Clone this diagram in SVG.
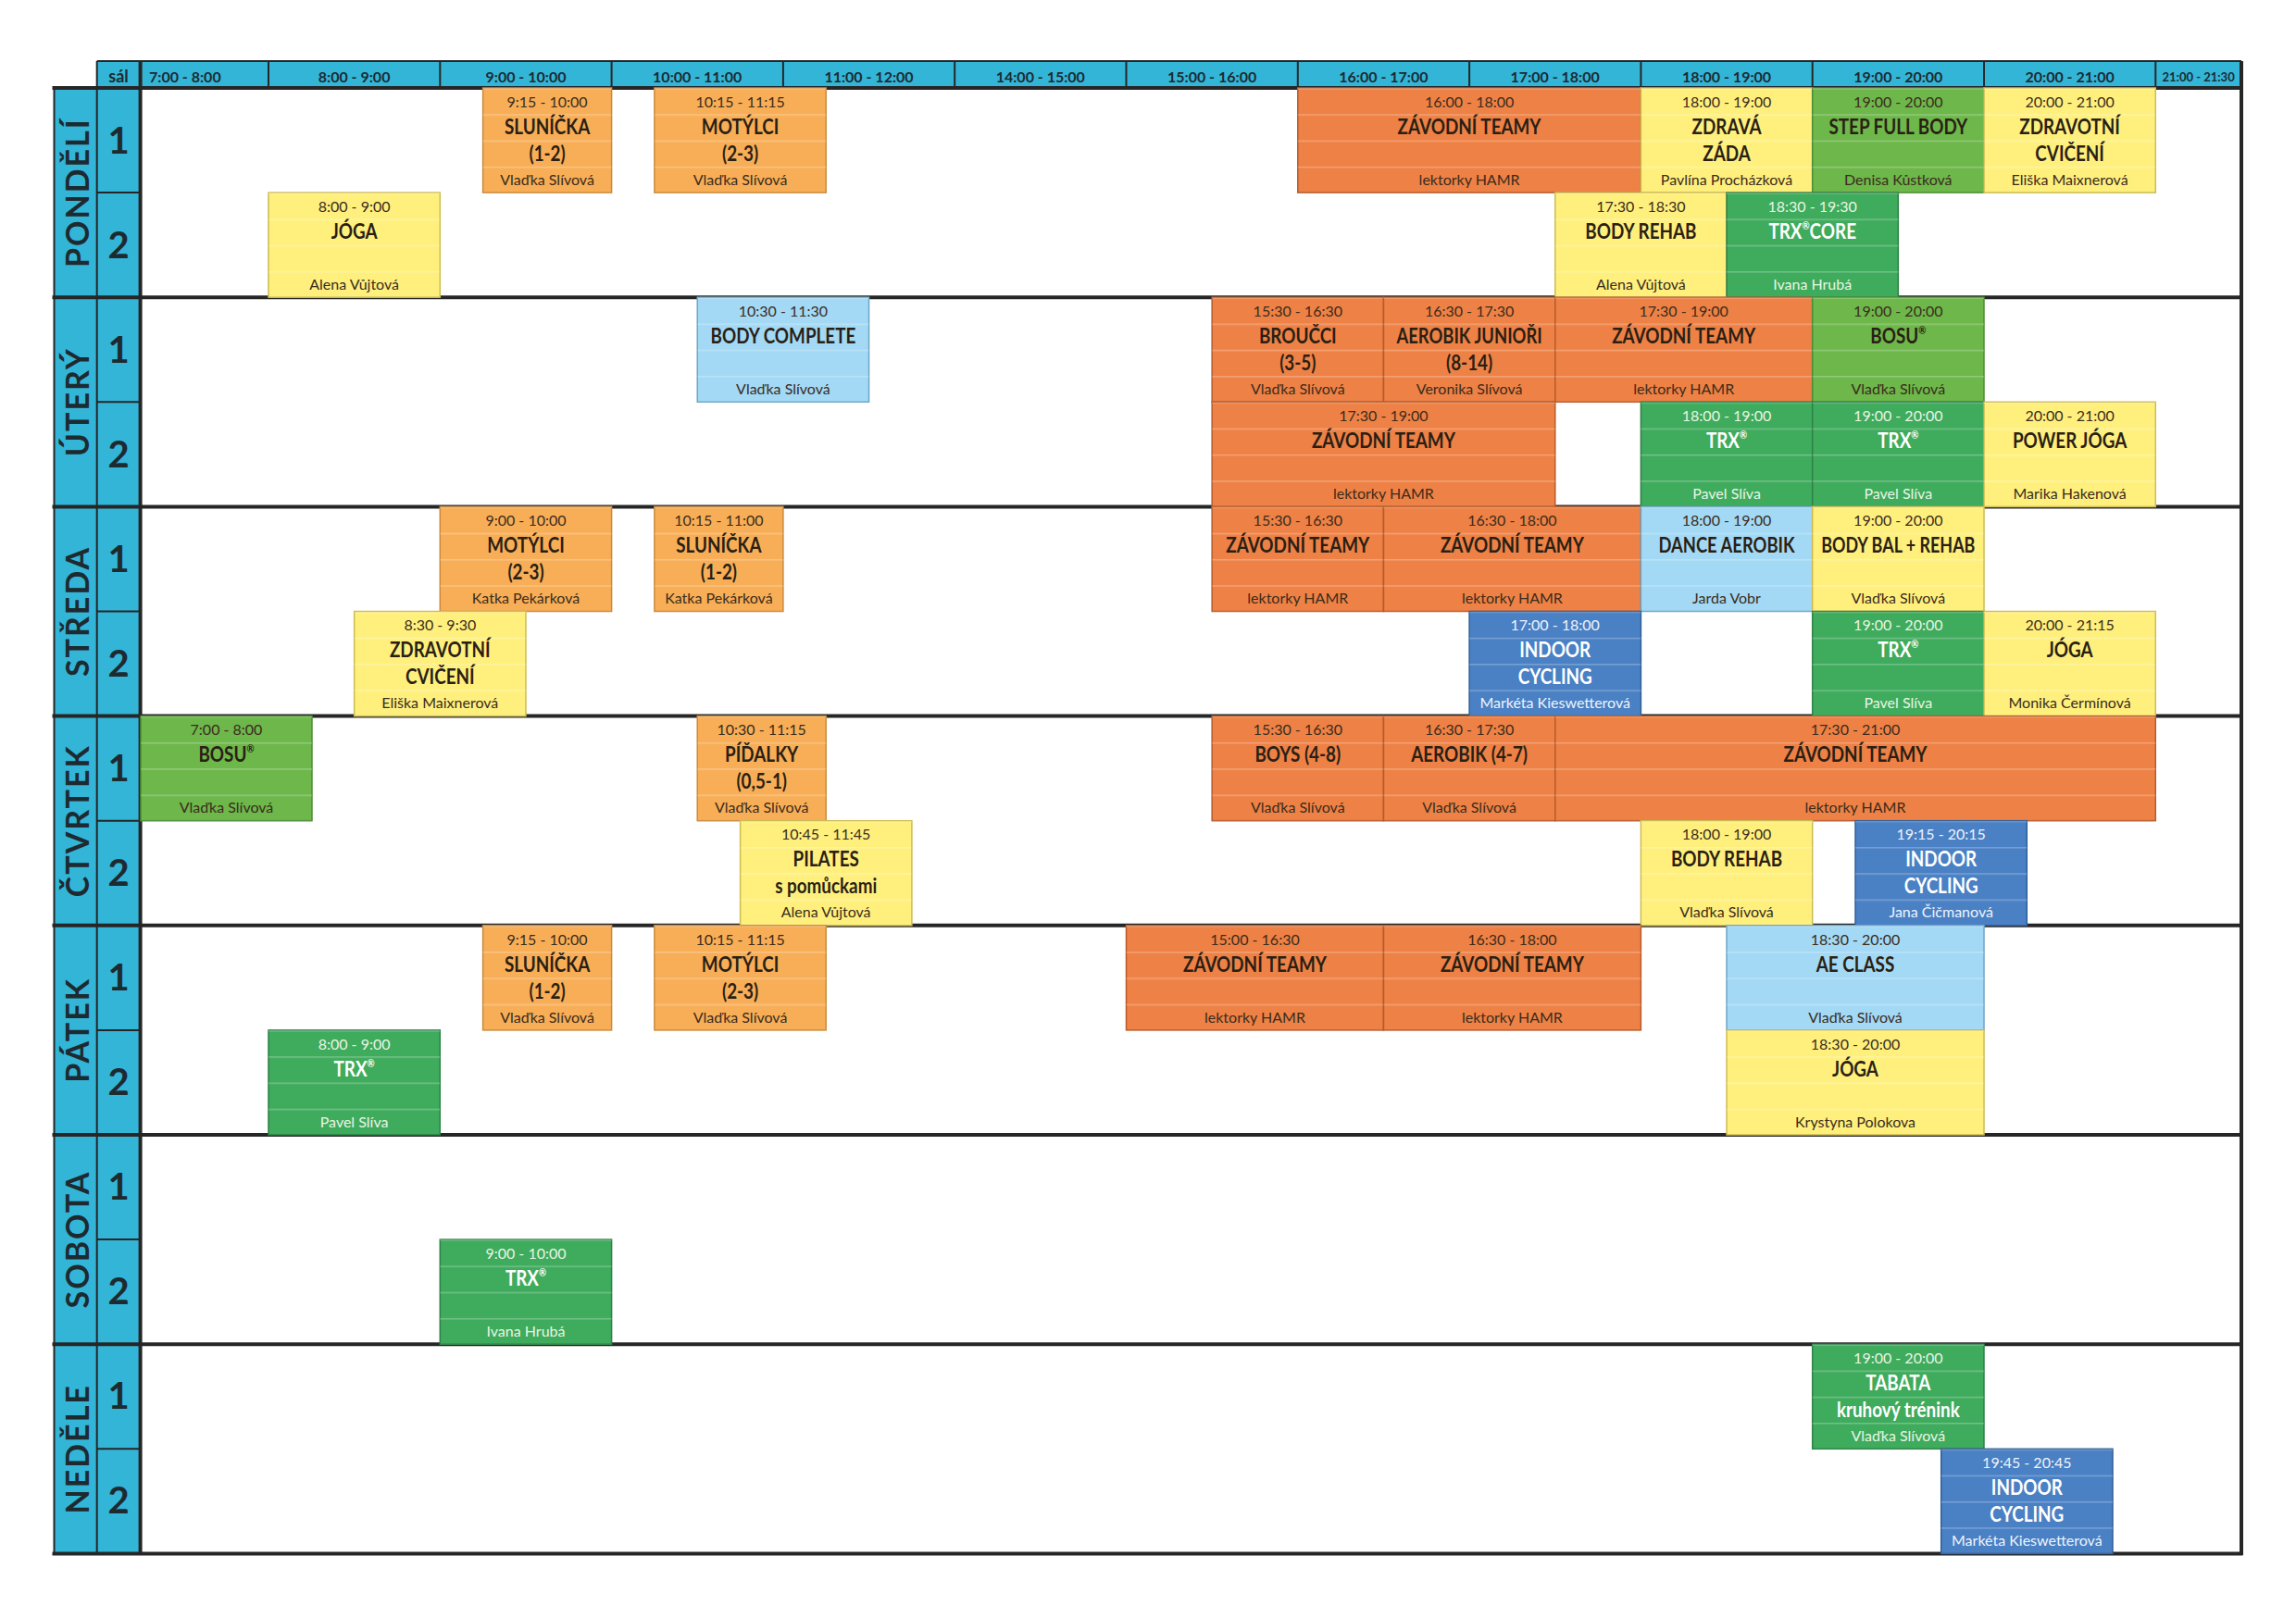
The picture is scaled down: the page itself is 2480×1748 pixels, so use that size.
<svg xmlns="http://www.w3.org/2000/svg" width="2480" height="1748" viewBox="0 0 2480 1748">
<style>
text{font-family:Lato,"Open Sans","Liberation Sans",sans-serif}
.t{font-size:16px;text-anchor:middle;fill:#3b2c1c}
.n{font-size:23px;font-weight:bold;text-anchor:middle;fill:#2a1f14}
.i{font-size:16px;text-anchor:middle;fill:#3b2c1c}
.r{font-size:12px}
.w .t,.w .i{fill:#e9f5e4}
.w .n{fill:#ffffff}
.f{stroke-width:1.5}
.s{fill:url(#sub);stroke:none}
.lo .f{fill:#F8AE57;stroke:#C98A3E}
.do .f{fill:#EE8145;stroke:#B65B2C}
.ye .f{fill:#FFF07E;stroke:#CDBB50}
.lg .f{fill:#6DB74B;stroke:#4C8D35}
.gr .f{fill:#3FAB5D;stroke:#2D8146}
.lb .f{fill:#A3D9F5;stroke:#6DA6C6}
.bl .f{fill:#4A80C4;stroke:#325E97}
.bl .t,.bl .i{fill:#eef4fb}
.hd{font-size:16px;font-weight:bold;text-anchor:middle;fill:#1d2a30}
.d{font-size:34px;font-weight:bold;text-anchor:middle;fill:#1d2a30;letter-spacing:2px}
.rn{font-size:40px;font-weight:bold;text-anchor:middle;fill:#1d2a30}
.thick{stroke:#262626;stroke-width:4}
.thin{stroke:#262626;stroke-width:2}
</style>
<defs>
<pattern id="sub" patternUnits="userSpaceOnUse" x="0" y="95" width="20" height="28.275">
<rect x="0" y="0" width="20" height="1.6" fill="#ffffff" fill-opacity="0.25"/>
</pattern>
</defs>
<rect x="0" y="0" width="2480" height="1748" fill="#ffffff"/>

<g id="frame">
<rect x="104.7" y="66" width="2316.3" height="29" fill="#33B5D8"/>
<rect x="58.5" y="95" width="93.1" height="1583.4" fill="#33B5D8"/>
<rect x="151.6" y="95" width="2269.4" height="1583.4" fill="#ffffff"/>
</g>

<g id="grid">
<line class="thin" x1="104.7" y1="66" x2="2421" y2="66"/>
<line class="thin" x1="104.7" y1="66" x2="104.7" y2="1678.4"/>
<line class="thin" x1="58.5" y1="95" x2="58.5" y2="1678.4"/>
<line class="thin" x1="290" y1="66" x2="290" y2="95"/>
<line class="thin" x1="475.3" y1="66" x2="475.3" y2="95"/>
<line class="thin" x1="660.6" y1="66" x2="660.6" y2="95"/>
<line class="thin" x1="845.9" y1="66" x2="845.9" y2="95"/>
<line class="thin" x1="1031.2" y1="66" x2="1031.2" y2="95"/>
<line class="thin" x1="1216.5" y1="66" x2="1216.5" y2="95"/>
<line class="thin" x1="1401.8" y1="66" x2="1401.8" y2="95"/>
<line class="thin" x1="1587.1" y1="66" x2="1587.1" y2="95"/>
<line class="thin" x1="1772.4" y1="66" x2="1772.4" y2="95"/>
<line class="thin" x1="1957.7" y1="66" x2="1957.7" y2="95"/>
<line class="thin" x1="2143" y1="66" x2="2143" y2="95"/>
<line class="thin" x1="2328.3" y1="66" x2="2328.3" y2="95"/>
<line class="thin" x1="104.7" y1="208.1" x2="151.6" y2="208.1"/>
<line class="thin" x1="104.7" y1="434.3" x2="151.6" y2="434.3"/>
<line class="thin" x1="104.7" y1="660.5" x2="151.6" y2="660.5"/>
<line class="thin" x1="104.7" y1="886.7" x2="151.6" y2="886.7"/>
<line class="thin" x1="104.7" y1="1112.9" x2="151.6" y2="1112.9"/>
<line class="thin" x1="104.7" y1="1339.1" x2="151.6" y2="1339.1"/>
<line class="thin" x1="104.7" y1="1565.3" x2="151.6" y2="1565.3"/>
<line class="thick" x1="56.5" y1="95" x2="2422.5" y2="95"/>
<line class="thick" x1="56.5" y1="321.2" x2="2422.5" y2="321.2"/>
<line class="thick" x1="56.5" y1="547.4" x2="2422.5" y2="547.4"/>
<line class="thick" x1="56.5" y1="773.6" x2="2422.5" y2="773.6"/>
<line class="thick" x1="56.5" y1="999.8" x2="2422.5" y2="999.8"/>
<line class="thick" x1="56.5" y1="1226" x2="2422.5" y2="1226"/>
<line class="thick" x1="56.5" y1="1452.2" x2="2422.5" y2="1452.2"/>
<line class="thick" x1="56.5" y1="1678.4" x2="2422.5" y2="1678.4"/>
<line class="thick" x1="151.6" y1="66" x2="151.6" y2="1678.4"/>
<line class="thick" x1="2421" y1="66" x2="2421" y2="1680"/>
</g>

<g id="header">
<text class="hd" x="128" y="89" style="font-size:18px">sál</text>
<text class="hd" x="161" y="89" style="text-anchor:start">7:00 - 8:00</text>
<text class="hd" x="382.6" y="89">8:00 - 9:00</text>
<text class="hd" x="568" y="89">9:00 - 10:00</text>
<text class="hd" x="753.2" y="89">10:00 - 11:00</text>
<text class="hd" x="938.5" y="89">11:00 - 12:00</text>
<text class="hd" x="1123.8" y="89">14:00 - 15:00</text>
<text class="hd" x="1309.1" y="89">15:00 - 16:00</text>
<text class="hd" x="1494.4" y="89">16:00 - 17:00</text>
<text class="hd" x="1679.7" y="89">17:00 - 18:00</text>
<text class="hd" x="1865" y="89">18:00 - 19:00</text>
<text class="hd" x="2050.3" y="89">19:00 - 20:00</text>
<text class="hd" x="2235.6" y="89">20:00 - 21:00</text>
<text class="hd" x="2374.6" y="88" style="font-size:13px">21:00 - 21:30</text>
</g>

<g id="days">
<text class="d" transform="translate(96 208.1) rotate(-90)">PONDĚLÍ</text>
<text class="d" transform="translate(96 434.3) rotate(-90)">ÚTERÝ</text>
<text class="d" transform="translate(96 660.5) rotate(-90)">STŘEDA</text>
<text class="d" transform="translate(96 886.7) rotate(-90)">ČTVRTEK</text>
<text class="d" transform="translate(96 1112.9) rotate(-90)">PÁTEK</text>
<text class="d" transform="translate(96 1339.1) rotate(-90)">SOBOTA</text>
<text class="d" transform="translate(96 1565.3) rotate(-90)">NEDĚLE</text>
</g>

<g id="rooms">
<text class="rn" x="128" y="166">1</text><text class="rn" x="128" y="279">2</text>
<text class="rn" x="128" y="392">1</text><text class="rn" x="128" y="505">2</text>
<text class="rn" x="128" y="618">1</text><text class="rn" x="128" y="731">2</text>
<text class="rn" x="128" y="844">1</text><text class="rn" x="128" y="957">2</text>
<text class="rn" x="128" y="1070">1</text><text class="rn" x="128" y="1183">2</text>
<text class="rn" x="128" y="1296">1</text><text class="rn" x="128" y="1409">2</text>
<text class="rn" x="128" y="1522">1</text><text class="rn" x="128" y="1635">2</text>
</g>

<g id="po-1-slunicka" class="lo"><rect class="f" x="521.6" y="95" width="139" height="113.1"/><rect class="s" x="521.6" y="95" width="139" height="113.1"/><text class="t" x="591.1" y="116">9:15 - 10:00</text><text class="n" transform="translate(591.1 145) scale(.82 1)">SLUNÍČKA</text><text class="n" transform="translate(591.1 174) scale(.82 1)">(1-2)</text><text class="i" x="591.1" y="200">Vlaďka Slívová</text></g>
<g id="po-1-motylci" class="lo"><rect class="f" x="706.9" y="95" width="185.3" height="113.1"/><rect class="s" x="706.9" y="95" width="185.3" height="113.1"/><text class="t" x="799.6" y="116">10:15 - 11:15</text><text class="n" transform="translate(799.6 145) scale(.82 1)">MOTÝLCI</text><text class="n" transform="translate(799.6 174) scale(.82 1)">(2-3)</text><text class="i" x="799.6" y="200">Vlaďka Slívová</text></g>
<g id="po-1-zavodni" class="do"><rect class="f" x="1401.8" y="95" width="370.6" height="113.1"/><rect class="s" x="1401.8" y="95" width="370.6" height="113.1"/><text class="t" x="1587.1" y="116">16:00 - 18:00</text><text class="n" transform="translate(1587.1 145) scale(.82 1)">ZÁVODNÍ TEAMY</text><text class="i" x="1587.1" y="200">lektorky HAMR</text></g>
<g id="po-1-zdrava" class="ye"><rect class="f" x="1772.4" y="95" width="185.3" height="113.1"/><rect class="s" x="1772.4" y="95" width="185.3" height="113.1"/><text class="t" x="1865" y="116">18:00 - 19:00</text><text class="n" transform="translate(1865 145) scale(.82 1)">ZDRAVÁ</text><text class="n" transform="translate(1865 174) scale(.82 1)">ZÁDA</text><text class="i" x="1865" y="200">Pavlína Procházková</text></g>
<g id="po-1-step" class="lg"><rect class="f" x="1957.7" y="95" width="185.3" height="113.1"/><rect class="s" x="1957.7" y="95" width="185.3" height="113.1"/><text class="t" x="2050.3" y="116">19:00 - 20:00</text><text class="n" transform="translate(2050.3 145) scale(.82 1)">STEP FULL BODY</text><text class="i" x="2050.3" y="200">Denisa Kůstková</text></g>
<g id="po-1-zdravotni" class="ye"><rect class="f" x="2143" y="95" width="185.3" height="113.1"/><rect class="s" x="2143" y="95" width="185.3" height="113.1"/><text class="t" x="2235.6" y="116">20:00 - 21:00</text><text class="n" transform="translate(2235.6 145) scale(.82 1)">ZDRAVOTNÍ</text><text class="n" transform="translate(2235.6 174) scale(.82 1)">CVIČENÍ</text><text class="i" x="2235.6" y="200">Eliška Maixnerová</text></g>
<g id="po-2-joga" class="ye"><rect class="f" x="290" y="208.1" width="185.3" height="113.1"/><rect class="s" x="290" y="208.1" width="185.3" height="113.1"/><text class="t" x="382.6" y="229">8:00 - 9:00</text><text class="n" transform="translate(382.6 258) scale(.82 1)">JÓGA</text><text class="i" x="382.6" y="313">Alena Vůjtová</text></g>
<g id="po-2-bodyrehab" class="ye"><rect class="f" x="1679.75" y="208.1" width="185.3" height="113.1"/><rect class="s" x="1679.75" y="208.1" width="185.3" height="113.1"/><text class="t" x="1772.4" y="229">17:30 - 18:30</text><text class="n" transform="translate(1772.4 258) scale(.82 1)">BODY REHAB</text><text class="i" x="1772.4" y="313">Alena Vůjtová</text></g>
<g id="po-2-trxcore" class="gr w"><rect class="f" x="1865.05" y="208.1" width="185.3" height="113.1"/><rect class="s" x="1865.05" y="208.1" width="185.3" height="113.1"/><text class="t" x="1957.7" y="229">18:30 - 19:30</text><text class="n" transform="translate(1957.7 258) scale(.82 1)">TRX<tspan class="r" dy="-10">®</tspan><tspan dy="10">CORE</tspan></text><text class="i" x="1957.7" y="313">Ivana Hrubá</text></g>

<g id="ut-1-bodycomplete" class="lb"><rect class="f" x="753.25" y="321.2" width="185.3" height="113.1"/><rect class="s" x="753.25" y="321.2" width="185.3" height="113.1"/><text class="t" x="845.9" y="342">10:30 - 11:30</text><text class="n" transform="translate(845.9 371) scale(.82 1)">BODY COMPLETE</text><text class="i" x="845.9" y="426">Vlaďka Slívová</text></g>
<g id="ut-1-broucci" class="do"><rect class="f" x="1309.15" y="321.2" width="185.3" height="113.1"/><rect class="s" x="1309.15" y="321.2" width="185.3" height="113.1"/><text class="t" x="1401.8" y="342">15:30 - 16:30</text><text class="n" transform="translate(1401.8 371) scale(.82 1)">BROUČCI</text><text class="n" transform="translate(1401.8 400) scale(.82 1)">(3-5)</text><text class="i" x="1401.8" y="426">Vlaďka Slívová</text></g>
<g id="ut-1-aerobikjuniori" class="do"><rect class="f" x="1494.45" y="321.2" width="185.3" height="113.1"/><rect class="s" x="1494.45" y="321.2" width="185.3" height="113.1"/><text class="t" x="1587.1" y="342">16:30 - 17:30</text><text class="n" transform="translate(1587.1 371) scale(.8 1)">AEROBIK JUNIOŘI</text><text class="n" transform="translate(1587.1 400) scale(.82 1)">(8-14)</text><text class="i" x="1587.1" y="426">Veronika Slívová</text></g>
<g id="ut-1-zavodni" class="do"><rect class="f" x="1679.75" y="321.2" width="277.95" height="113.1"/><rect class="s" x="1679.75" y="321.2" width="277.95" height="113.1"/><text class="t" x="1818.7" y="342">17:30 - 19:00</text><text class="n" transform="translate(1818.7 371) scale(.82 1)">ZÁVODNÍ TEAMY</text><text class="i" x="1818.7" y="426">lektorky HAMR</text></g>
<g id="ut-1-bosu" class="lg"><rect class="f" x="1957.7" y="321.2" width="185.3" height="113.1"/><rect class="s" x="1957.7" y="321.2" width="185.3" height="113.1"/><text class="t" x="2050.3" y="342">19:00 - 20:00</text><text class="n" transform="translate(2050.3 371) scale(.82 1)">BOSU<tspan class="r" dy="-10">®</tspan></text><text class="i" x="2050.3" y="426">Vlaďka Slívová</text></g>
<g id="ut-2-zavodni" class="do"><rect class="f" x="1309.15" y="434.3" width="370.6" height="113.1"/><rect class="s" x="1309.15" y="434.3" width="370.6" height="113.1"/><text class="t" x="1494.4" y="455">17:30 - 19:00</text><text class="n" transform="translate(1494.4 484) scale(.82 1)">ZÁVODNÍ TEAMY</text><text class="i" x="1494.4" y="539">lektorky HAMR</text></g>
<g id="ut-2-trx1" class="gr w"><rect class="f" x="1772.4" y="434.3" width="185.3" height="113.1"/><rect class="s" x="1772.4" y="434.3" width="185.3" height="113.1"/><text class="t" x="1865" y="455">18:00 - 19:00</text><text class="n" transform="translate(1865 484) scale(.82 1)">TRX<tspan class="r" dy="-10">®</tspan></text><text class="i" x="1865" y="539">Pavel Slíva</text></g>
<g id="ut-2-trx2" class="gr w"><rect class="f" x="1957.7" y="434.3" width="185.3" height="113.1"/><rect class="s" x="1957.7" y="434.3" width="185.3" height="113.1"/><text class="t" x="2050.3" y="455">19:00 - 20:00</text><text class="n" transform="translate(2050.3 484) scale(.82 1)">TRX<tspan class="r" dy="-10">®</tspan></text><text class="i" x="2050.3" y="539">Pavel Slíva</text></g>
<g id="ut-2-powerjoga" class="ye"><rect class="f" x="2143" y="434.3" width="185.3" height="113.1"/><rect class="s" x="2143" y="434.3" width="185.3" height="113.1"/><text class="t" x="2235.6" y="455">20:00 - 21:00</text><text class="n" transform="translate(2235.6 484) scale(.82 1)">POWER JÓGA</text><text class="i" x="2235.6" y="539">Marika Hakenová</text></g>

<g id="st-1-motylci" class="lo"><rect class="f" x="475.3" y="547.4" width="185.3" height="113.1"/><rect class="s" x="475.3" y="547.4" width="185.3" height="113.1"/><text class="t" x="568" y="568">9:00 - 10:00</text><text class="n" transform="translate(568 597) scale(.82 1)">MOTÝLCI</text><text class="n" transform="translate(568 626) scale(.82 1)">(2-3)</text><text class="i" x="568" y="652">Katka Pekárková</text></g>
<g id="st-1-slunicka" class="lo"><rect class="f" x="706.9" y="547.4" width="139" height="113.1"/><rect class="s" x="706.9" y="547.4" width="139" height="113.1"/><text class="t" x="776.4" y="568">10:15 - 11:00</text><text class="n" transform="translate(776.4 597) scale(.82 1)">SLUNÍČKA</text><text class="n" transform="translate(776.4 626) scale(.82 1)">(1-2)</text><text class="i" x="776.4" y="652">Katka Pekárková</text></g>
<g id="st-1-zavodni1" class="do"><rect class="f" x="1309.15" y="547.4" width="185.3" height="113.1"/><rect class="s" x="1309.15" y="547.4" width="185.3" height="113.1"/><text class="t" x="1401.8" y="568">15:30 - 16:30</text><text class="n" transform="translate(1401.8 597) scale(.82 1)">ZÁVODNÍ TEAMY</text><text class="i" x="1401.8" y="652">lektorky HAMR</text></g>
<g id="st-1-zavodni2" class="do"><rect class="f" x="1494.45" y="547.4" width="277.95" height="113.1"/><rect class="s" x="1494.45" y="547.4" width="277.95" height="113.1"/><text class="t" x="1633.4" y="568">16:30 - 18:00</text><text class="n" transform="translate(1633.4 597) scale(.82 1)">ZÁVODNÍ TEAMY</text><text class="i" x="1633.4" y="652">lektorky HAMR</text></g>
<g id="st-1-dance" class="lb"><rect class="f" x="1772.4" y="547.4" width="185.3" height="113.1"/><rect class="s" x="1772.4" y="547.4" width="185.3" height="113.1"/><text class="t" x="1865" y="568">18:00 - 19:00</text><text class="n" transform="translate(1865 597) scale(.8 1)">DANCE AEROBIK</text><text class="i" x="1865" y="652">Jarda Vobr</text></g>
<g id="st-1-bodybal" class="ye"><rect class="f" x="1957.7" y="547.4" width="185.3" height="113.1"/><rect class="s" x="1957.7" y="547.4" width="185.3" height="113.1"/><text class="t" x="2050.3" y="568">19:00 - 20:00</text><text class="n" transform="translate(2050.3 597) scale(.78 1)">BODY BAL + REHAB</text><text class="i" x="2050.3" y="652">Vlaďka Slívová</text></g>
<g id="st-2-zdravotni" class="ye"><rect class="f" x="382.65" y="660.5" width="185.3" height="113.1"/><rect class="s" x="382.65" y="660.5" width="185.3" height="113.1"/><text class="t" x="475.3" y="681">8:30 - 9:30</text><text class="n" transform="translate(475.3 710) scale(.82 1)">ZDRAVOTNÍ</text><text class="n" transform="translate(475.3 739) scale(.82 1)">CVIČENÍ</text><text class="i" x="475.3" y="765">Eliška Maixnerová</text></g>
<g id="st-2-indoor" class="bl w"><rect class="f" x="1587.1" y="660.5" width="185.3" height="113.1"/><rect class="s" x="1587.1" y="660.5" width="185.3" height="113.1"/><text class="t" x="1679.7" y="681">17:00 - 18:00</text><text class="n" transform="translate(1679.7 710) scale(.82 1)">INDOOR</text><text class="n" transform="translate(1679.7 739) scale(.82 1)">CYCLING</text><text class="i" x="1679.7" y="765">Markéta Kieswetterová</text></g>
<g id="st-2-trx" class="gr w"><rect class="f" x="1957.7" y="660.5" width="185.3" height="113.1"/><rect class="s" x="1957.7" y="660.5" width="185.3" height="113.1"/><text class="t" x="2050.3" y="681">19:00 - 20:00</text><text class="n" transform="translate(2050.3 710) scale(.82 1)">TRX<tspan class="r" dy="-10">®</tspan></text><text class="i" x="2050.3" y="765">Pavel Slíva</text></g>
<g id="st-2-joga" class="ye"><rect class="f" x="2143" y="660.5" width="185.3" height="113.1"/><rect class="s" x="2143" y="660.5" width="185.3" height="113.1"/><text class="t" x="2235.6" y="681">20:00 - 21:15</text><text class="n" transform="translate(2235.6 710) scale(.82 1)">JÓGA</text><text class="i" x="2235.6" y="765">Monika Čermínová</text></g>

<g id="ct-1-bosu" class="lg"><rect class="f" x="152" y="773.6" width="185" height="113.1"/><rect class="s" x="152" y="773.6" width="185" height="113.1"/><text class="t" x="244.5" y="794">7:00 - 8:00</text><text class="n" transform="translate(244.5 823) scale(.82 1)">BOSU<tspan class="r" dy="-10">®</tspan></text><text class="i" x="244.5" y="878">Vlaďka Slívová</text></g>
<g id="ct-1-pidalky" class="lo"><rect class="f" x="753.25" y="773.6" width="138.95" height="113.1"/><rect class="s" x="753.25" y="773.6" width="138.95" height="113.1"/><text class="t" x="822.7" y="794">10:30 - 11:15</text><text class="n" transform="translate(822.7 823) scale(.82 1)">PÍĎALKY</text><text class="n" transform="translate(822.7 852) scale(.82 1)">(0,5-1)</text><text class="i" x="822.7" y="878">Vlaďka Slívová</text></g>
<g id="ct-1-boys" class="do"><rect class="f" x="1309.15" y="773.6" width="185.3" height="113.1"/><rect class="s" x="1309.15" y="773.6" width="185.3" height="113.1"/><text class="t" x="1401.8" y="794">15:30 - 16:30</text><text class="n" transform="translate(1401.8 823) scale(.82 1)">BOYS (4-8)</text><text class="i" x="1401.8" y="878">Vlaďka Slívová</text></g>
<g id="ct-1-aerobik" class="do"><rect class="f" x="1494.45" y="773.6" width="185.3" height="113.1"/><rect class="s" x="1494.45" y="773.6" width="185.3" height="113.1"/><text class="t" x="1587.1" y="794">16:30 - 17:30</text><text class="n" transform="translate(1587.1 823) scale(.82 1)">AEROBIK (4-7)</text><text class="i" x="1587.1" y="878">Vlaďka Slívová</text></g>
<g id="ct-1-zavodni" class="do"><rect class="f" x="1679.75" y="773.6" width="648.55" height="113.1"/><rect class="s" x="1679.75" y="773.6" width="648.55" height="113.1"/><text class="t" x="2004" y="794">17:30 - 21:00</text><text class="n" transform="translate(2004 823) scale(.82 1)">ZÁVODNÍ TEAMY</text><text class="i" x="2004" y="878">lektorky HAMR</text></g>
<g id="ct-2-pilates" class="ye"><rect class="f" x="799.6" y="886.7" width="185.3" height="113.1"/><rect class="s" x="799.6" y="886.7" width="185.3" height="113.1"/><text class="t" x="892.2" y="907">10:45 - 11:45</text><text class="n" transform="translate(892.2 936) scale(.82 1)">PILATES</text><text class="n" transform="translate(892.2 965) scale(.82 1)">s pomůckami</text><text class="i" x="892.2" y="991">Alena Vůjtová</text></g>
<g id="ct-2-bodyrehab" class="ye"><rect class="f" x="1772.4" y="886.7" width="185.3" height="113.1"/><rect class="s" x="1772.4" y="886.7" width="185.3" height="113.1"/><text class="t" x="1865" y="907">18:00 - 19:00</text><text class="n" transform="translate(1865 936) scale(.82 1)">BODY REHAB</text><text class="i" x="1865" y="991">Vlaďka Slívová</text></g>
<g id="ct-2-indoor" class="bl w"><rect class="f" x="2004" y="886.7" width="185.3" height="113.1"/><rect class="s" x="2004" y="886.7" width="185.3" height="113.1"/><text class="t" x="2096.7" y="907">19:15 - 20:15</text><text class="n" transform="translate(2096.7 936) scale(.82 1)">INDOOR</text><text class="n" transform="translate(2096.7 965) scale(.82 1)">CYCLING</text><text class="i" x="2096.7" y="991">Jana Čičmanová</text></g>

<g id="pa-1-slunicka" class="lo"><rect class="f" x="521.6" y="999.8" width="139" height="113.1"/><rect class="s" x="521.6" y="999.8" width="139" height="113.1"/><text class="t" x="591.1" y="1021">9:15 - 10:00</text><text class="n" transform="translate(591.1 1050) scale(.82 1)">SLUNÍČKA</text><text class="n" transform="translate(591.1 1079) scale(.82 1)">(1-2)</text><text class="i" x="591.1" y="1105">Vlaďka Slívová</text></g>
<g id="pa-1-motylci" class="lo"><rect class="f" x="706.9" y="999.8" width="185.3" height="113.1"/><rect class="s" x="706.9" y="999.8" width="185.3" height="113.1"/><text class="t" x="799.6" y="1021">10:15 - 11:15</text><text class="n" transform="translate(799.6 1050) scale(.82 1)">MOTÝLCI</text><text class="n" transform="translate(799.6 1079) scale(.82 1)">(2-3)</text><text class="i" x="799.6" y="1105">Vlaďka Slívová</text></g>
<g id="pa-1-zavodni1" class="do"><rect class="f" x="1216.5" y="999.8" width="277.95" height="113.1"/><rect class="s" x="1216.5" y="999.8" width="277.95" height="113.1"/><text class="t" x="1355.5" y="1021">15:00 - 16:30</text><text class="n" transform="translate(1355.5 1050) scale(.82 1)">ZÁVODNÍ TEAMY</text><text class="i" x="1355.5" y="1105">lektorky HAMR</text></g>
<g id="pa-1-zavodni2" class="do"><rect class="f" x="1494.45" y="999.8" width="277.95" height="113.1"/><rect class="s" x="1494.45" y="999.8" width="277.95" height="113.1"/><text class="t" x="1633.4" y="1021">16:30 - 18:00</text><text class="n" transform="translate(1633.4 1050) scale(.82 1)">ZÁVODNÍ TEAMY</text><text class="i" x="1633.4" y="1105">lektorky HAMR</text></g>
<g id="pa-1-aeclass" class="lb"><rect class="f" x="1865.05" y="999.8" width="277.95" height="113.1"/><rect class="s" x="1865.05" y="999.8" width="277.95" height="113.1"/><text class="t" x="2004" y="1021">18:30 - 20:00</text><text class="n" transform="translate(2004 1050) scale(.82 1)">AE CLASS</text><text class="i" x="2004" y="1105">Vlaďka Slívová</text></g>
<g id="pa-2-trx" class="gr w"><rect class="f" x="290" y="1112.9" width="185.3" height="113.1"/><rect class="s" x="290" y="1112.9" width="185.3" height="113.1"/><text class="t" x="382.6" y="1134">8:00 - 9:00</text><text class="n" transform="translate(382.6 1163) scale(.82 1)">TRX<tspan class="r" dy="-10">®</tspan></text><text class="i" x="382.6" y="1218">Pavel Slíva</text></g>
<g id="pa-2-joga" class="ye"><rect class="f" x="1865.05" y="1112.9" width="277.95" height="113.1"/><rect class="s" x="1865.05" y="1112.9" width="277.95" height="113.1"/><text class="t" x="2004" y="1134">18:30 - 20:00</text><text class="n" transform="translate(2004 1163) scale(.82 1)">JÓGA</text><text class="i" x="2004" y="1218">Krystyna Polokova</text></g>

<g id="so-2-trx" class="gr w"><rect class="f" x="475.3" y="1339.1" width="185.3" height="113.1"/><rect class="s" x="475.3" y="1339.1" width="185.3" height="113.1"/><text class="t" x="568" y="1360">9:00 - 10:00</text><text class="n" transform="translate(568 1389) scale(.82 1)">TRX<tspan class="r" dy="-10">®</tspan></text><text class="i" x="568" y="1444">Ivana Hrubá</text></g>

<g id="ne-1-tabata" class="gr w"><rect class="f" x="1957.7" y="1452.2" width="185.3" height="113.1"/><rect class="s" x="1957.7" y="1452.2" width="185.3" height="113.1"/><text class="t" x="2050.3" y="1473">19:00 - 20:00</text><text class="n" transform="translate(2050.3 1502) scale(.82 1)">TABATA</text><text class="n" transform="translate(2050.3 1531) scale(.82 1)">kruhový trénink</text><text class="i" x="2050.3" y="1557">Vlaďka Slívová</text></g>
<g id="ne-2-indoor" class="bl w"><rect class="f" x="2096.7" y="1565.3" width="185.3" height="113.1"/><rect class="s" x="2096.7" y="1565.3" width="185.3" height="113.1"/><text class="t" x="2189.3" y="1586">19:45 - 20:45</text><text class="n" transform="translate(2189.3 1615) scale(.82 1)">INDOOR</text><text class="n" transform="translate(2189.3 1644) scale(.82 1)">CYCLING</text><text class="i" x="2189.3" y="1670">Markéta Kieswetterová</text></g>
</svg>
